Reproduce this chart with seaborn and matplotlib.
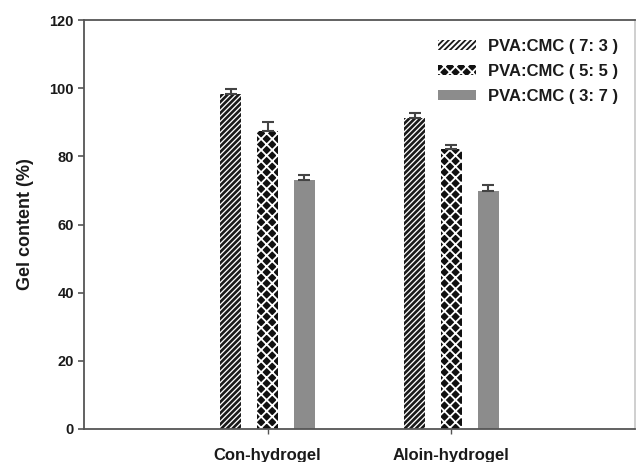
import matplotlib
matplotlib.use("Agg")
import matplotlib.pyplot as plt
import seaborn as sns
import pandas as pd

# Gel content of the two hydrogels at three PVA:CMC blend ratios
groups = ["Con-hydrogel", "Aloin-hydrogel"]
ratios = ["PVA:CMC ( 7: 3 )", "PVA:CMC ( 5: 5 )", "PVA:CMC ( 3: 7 )"]
gel_con = [98.2, 87.4, 73.1]
gel_aloin = [91.2, 82.1, 69.9]
err_con = [1.5, 2.6, 1.4]
err_aloin = [1.6, 1.2, 1.8]

rows = []
for g, vals, errs in [(groups[0], gel_con, err_con), (groups[1], gel_aloin, err_aloin)]:
    for r, v, e in zip(ratios, vals, errs):
        rows.append({"group": g, "ratio": r, "gel": v, "err": e})
df = pd.DataFrame(rows)

sns.set_theme(style="white")
plt.rcParams["font.family"] = ["Liberation Sans", "DejaVu Sans"]
plt.rcParams["font.weight"] = "bold"
plt.rcParams["hatch.linewidth"] = 1.3

fig = plt.figure(figsize=(6.38, 4.62), dpi=100)
ax = fig.add_axes([84 / 638, 33 / 462, 551 / 638, 409 / 462])

sns.barplot(data=df, x="group", y="gel", hue="ratio", order=groups,
            hue_order=ratios, errorbar=None, width=0.6, gap=0.425,
            ax=ax, legend=False)

styles = [
    dict(facecolor="white", edgecolor="#1a1a1a", hatch="//////", hlw=1.9),
    dict(facecolor="#111111", edgecolor="white", hatch="xxx", hlw=1.3),
    dict(facecolor="#8c8c8c", edgecolor="#8c8c8c", hatch=None, hlw=1.0),
]
for cont, st, r in zip(ax.containers, styles, ratios):
    sub = df[df["ratio"] == r].set_index("group").loc[groups]
    for patch, e in zip(cont.patches, sub["err"]):
        patch.set_facecolor(st["facecolor"])
        patch.set_edgecolor(st["edgecolor"])
        patch.set_hatch(st["hatch"])
        if hasattr(patch, "set_hatch_linewidth"):
            patch.set_hatch_linewidth(st["hlw"])
        patch.set_linewidth(0)
        xc = patch.get_x() + patch.get_width() / 2
        ax.errorbar(xc, patch.get_height(), yerr=[[0], [e]], fmt="none",
                    ecolor="#444444", elinewidth=1.5, capsize=4.3,
                    capthick=1.5, zorder=3)
    cont.set_label(r)

ax.set_xlim(-1, 2)
ax.set_ylim(0, 120)
ax.set_yticks(range(0, 121, 20))
ax.set_xlabel("")
ax.set_ylabel("Gel content (%)", fontsize=13, fontweight="bold",
              color="#1a1a1a", labelpad=11)

for side in ["left", "bottom", "top"]:
    ax.spines[side].set_color("#555555")
    ax.spines[side].set_linewidth(1.3)
ax.spines["right"].set_color("#cccccc")
ax.spines["right"].set_linewidth(1.3)

ax.tick_params(axis="y", direction="out", length=4.3, width=1.2,
               color="#555555", labelsize=10.5, labelcolor="#1a1a1a", pad=3,
               left=True)
ax.tick_params(axis="x", direction="out", length=3.5, width=1.0,
               color="#555555", labelsize=12, labelcolor="#1a1a1a", pad=10,
               bottom=True)
for lbl in ax.get_xticklabels() + ax.get_yticklabels():
    lbl.set_fontweight("bold")

leg = ax.legend(handles=ax.containers, labels=ratios, loc="upper right",
                bbox_to_anchor=((618 - 84) / 551, (429 - 39) / 409),
                frameon=False, borderpad=0, borderaxespad=0,
                handlelength=2.3, handleheight=0.55, handletextpad=0.7,
                labelspacing=0.6, prop={"size": 12, "weight": "bold"})
for t in leg.get_texts():
    t.set_color("#1a1a1a")

fig.savefig("out.png", dpi=100)
